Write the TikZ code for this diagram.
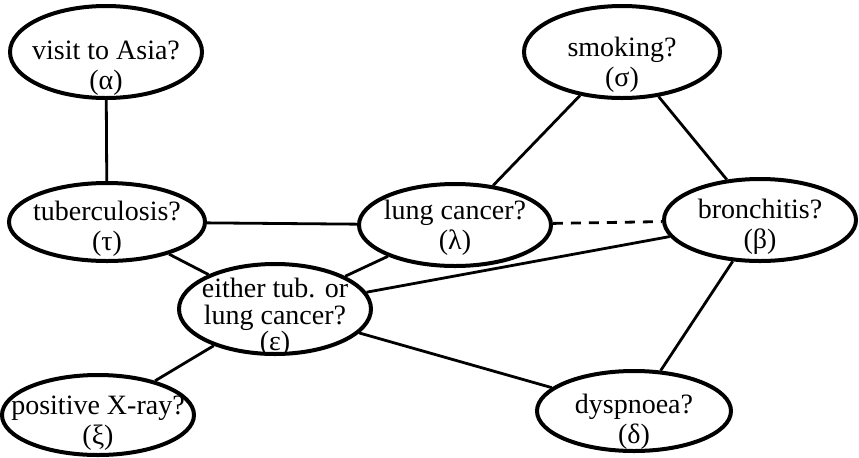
\documentclass[tikz,border=0pt]{standalone}
\usepackage{fontspec}
\setmainfont{Liberation Serif}
\usetikzlibrary{shapes.geometric}
\tikzset{
  var/.style={draw, ellipse, line width=2pt, inner sep=0pt},
  every label/.style={align=center, font=\fontsize{14}{15}\selectfont},
  link/.style={line width=1.4pt}
}
\begin{document}
\begin{tikzpicture}[x=0.5pt, y=-0.5pt]
            \useasboundingbox (0,0) rectangle (859,457);
            \node[var, minimum width=96pt, minimum height=46pt,
              label={[yshift=-8pt]center:{visit to Asia?\\(α)}}] (asia) at (106,52) {};
            \node[var, minimum width=98pt, minimum height=39pt,
              label={[yshift=-3.5pt]center:{tuberculosis?\\(τ)}}] (tub) at (107,222) {};
            \node[var, minimum width=96pt, minimum height=41pt,
              label={[yshift=-1.5pt]center:{lung cancer?\\(λ)}}] (lung) at (455,225) {};
            \node[var, minimum width=98pt, minimum height=46pt,
              label={[yshift=-6.5pt]center:{smoking?\\(σ)}}] (smoke) at (622,52) {};
            \node[var, minimum width=96pt, minimum height=41pt,
              label={[yshift=-3.5pt]center:{bronchitis?\\(β)}}] (bronc) at (760,220) {};
            \node[var, minimum width=96pt, minimum height=45pt,
              label={[yshift=-4pt]center:{either tub. or\\[-1.5pt]lung cancer?\\[-2pt](ε)}}] (either) at (275,309) {};
            \node[var, minimum width=96pt, minimum height=40pt,
              label={[yshift=-4pt]center:{positive X-ray?\\(ξ)}}] (xray) at (98,415) {};
            \node[var, minimum width=97pt, minimum height=40pt,
              label={[yshift=-5.5pt]center:{dyspnoea?\\(δ)}}] (dysp) at (634,411) {};
            \draw[link] (asia) -- (tub);
            \draw[link] (tub) -- (lung);
            \draw[link] (tub) -- (either);
            \draw[link] (lung) -- (either);
            \draw[link] (lung) -- (smoke);
            \draw[link] (smoke) -- (bronc);
            \draw[link, dash pattern=on 5pt off 4pt] (lung) -- (bronc);
            \draw[link] (either) -- (bronc);
            \draw[link] (either) -- (dysp);
            \draw[link] (either) -- (xray);
            \draw[link] (bronc) -- (dysp);
        \end{tikzpicture}
\end{document}
